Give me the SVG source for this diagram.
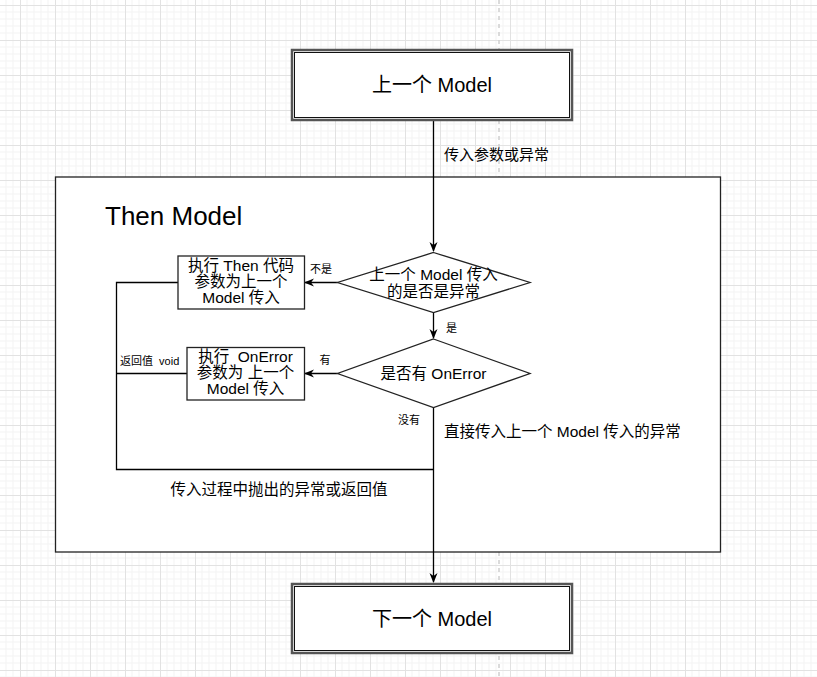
<svg xmlns="http://www.w3.org/2000/svg" width="817" height="677" viewBox="0 0 817 677">
<style>
text{font-family:"Liberation Sans","Noto Sans CJK SC",sans-serif;fill:#000;white-space:pre}
.t20{font-size:20px}
.t15{font-size:15.5px}
.t11{font-size:11px}
.node{fill:#fff;stroke:#222;stroke-width:1.3}
.outer{fill:#fff;stroke:#555;stroke-width:2.5}
.inner{fill:none;stroke:#111;stroke-width:1}
.edge{fill:none;stroke:#000;stroke-width:1.3}
</style>
<defs>
<pattern id="grid" x="20" y="5" width="35" height="35" patternUnits="userSpaceOnUse">
<path d="M7,0V35M14,0V35M21,0V35M28,0V35M0,7H35M0,14H35M0,21H35M0,28H35" stroke="#f3f3f3" stroke-width="1" fill="none"/>
<path d="M0.5,0V35M0,0.5H35" stroke="#e2e2e2" stroke-width="1" fill="none"/>
</pattern>
<marker id="arr" markerWidth="10" markerHeight="10" viewBox="0 0 10 10" refX="9" refY="5" orient="auto" markerUnits="userSpaceOnUse">
<path d="M0,1 L10,5 L0,9 L3,5 Z" fill="#000"/>
</marker>
</defs>
<rect width="817" height="677" fill="#fff"/>
<rect width="817" height="677" fill="url(#grid)"/>
<line x1="499" y1="0" x2="499" y2="677" stroke="#cfcfcf" stroke-width="1.5" stroke-dasharray="4,4"/>

<g id="container">
<rect x="55.5" y="177" width="665" height="375" class="node"/>
<text x="105" y="225" style="font-size:26px">Then Model</text>
</g>

<g id="connectors">
<path class="edge" d="M433.5,120 V251" marker-end="url(#arr)"/>
<path class="edge" d="M337.5,282.5 H305" marker-end="url(#arr)"/>
<path class="edge" d="M433.5,312 V338" marker-end="url(#arr)"/>
<path class="edge" d="M337.5,373.5 H305" marker-end="url(#arr)"/>
<path class="edge" d="M433.5,407 V582" marker-end="url(#arr)"/>
<path class="edge" d="M178,282.5 H116.5 V469.5 H433.5"/>
<path class="edge" d="M187,373.5 H116.5"/>
<text x="444" y="160" class="t15" style="font-size:15px">传入参数或异常</text>
<text x="321" y="273" class="t11" text-anchor="middle">不是</text>
<text x="446" y="332" class="t11">是</text>
<text x="325" y="364" class="t11" text-anchor="middle">有</text>
<text x="120" y="365" class="t11" xml:space="preserve">返回值  void</text>
<text x="409" y="424" class="t11" text-anchor="middle">没有</text>
<text x="444" y="437" class="t15">直接传入上一个 Model 传入的异常</text>
<text x="279" y="495" class="t15" text-anchor="middle">传入过程中抛出的异常或返回值</text>
</g>

<g id="prev-model">
<rect x="292" y="50" width="280" height="70" class="outer"/>
<rect x="294.5" y="52.5" width="275" height="65" class="inner"/>
<text x="432" y="92" class="t20" text-anchor="middle">上一个 Model</text>
</g>

<g id="decision-exception">
<polygon points="433.5,252.5 530,282.5 433.5,312.5 337.5,282.5" class="node"/>
<text x="433.5" y="280" class="t15" text-anchor="middle">上一个 Model 传入</text>
<text x="433.5" y="297" class="t15" text-anchor="middle">的是否是异常</text>
</g>

<g id="then-code">
<rect x="178" y="256" width="126.5" height="53" class="node"/>
<text x="241" y="271" class="t15" text-anchor="middle">执行 Then 代码</text>
<text x="241" y="287" class="t15" text-anchor="middle">参数为上一个</text>
<text x="241" y="303" class="t15" text-anchor="middle">Model 传入</text>
</g>

<g id="decision-onerror">
<polygon points="433.5,339 530,373.5 433.5,407.5 337.5,373.5" class="node"/>
<text x="433.5" y="379" class="t15" text-anchor="middle">是否有 OnError</text>
</g>

<g id="onerror-code">
<rect x="187" y="347.5" width="117.5" height="52.5" class="node"/>
<text x="245.5" y="362" class="t15" text-anchor="middle" xml:space="preserve">执行  OnError</text>
<text x="245.5" y="378" class="t15" text-anchor="middle">参数为 上一个</text>
<text x="245.5" y="394" class="t15" text-anchor="middle">Model 传入</text>
</g>

<g id="next-model">
<rect x="292" y="584" width="280" height="69" class="outer"/>
<rect x="294.5" y="586.5" width="275" height="64" class="inner"/>
<text x="432" y="626" class="t20" text-anchor="middle">下一个 Model</text>
</g>
</svg>
